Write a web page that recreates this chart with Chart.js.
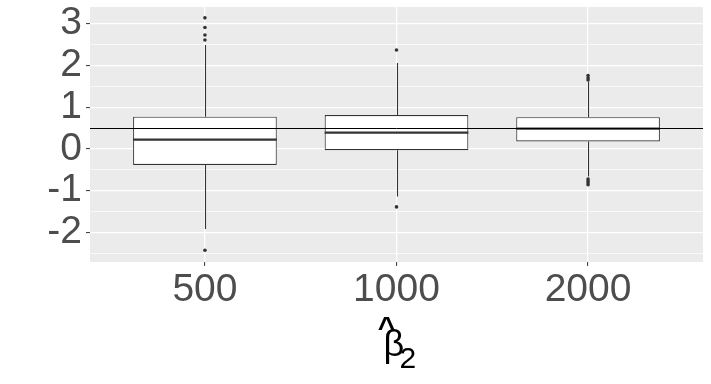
<!DOCTYPE html>
<html>
<head>
<meta charset="utf-8">
<script src="https://cdn.jsdelivr.net/npm/chart.js@4"></script>
<style>
  html, body { margin: 0; padding: 0; background: #ffffff; }
  #wrap { width: 711px; height: 384px; }
</style>
</head>
<body>
<div id="wrap"><canvas id="my-chart" width="711" height="384"></canvas></div>
<script>
'use strict';

// ******** DATA *******

let categories = ['500', '1000', '2000'];
let xPositions = [1, 2, 3];

// box stats for each sample size
let q1 = [-0.383, -0.03, 0.18];
let medians = [0.222, 0.39, 0.486];
let q3 = [0.773, 0.81, 0.76];
let whiskerLow = [-1.92, -1.14, -0.66];
let whiskerHigh = [2.49, 2.06, 1.61];

// outlying points
let outliers500 = [3.14, 2.91, 2.73, 2.61, -2.43];
let outliers1000 = [2.37, -1.39];
let outliers2000 = [1.76, 1.70, 1.65, -0.72, -0.77, -0.81, -0.86];

// true value line
let refValue = 0.5;

// tick labels
let yTickValues = [-2.5, -2, -1.5, -1, -0.5, 0, 0.5, 1, 1.5, 2, 2.5, 3];
let yTickLabels = ['', '-2', '', '-1', '', '0', '', '1', '', '2', '', '3'];

// ******** BUILD DATASETS *******

let boxData = [];
for (let i = 0; i < categories.length; i++) {
  boxData.push({ x: xPositions[i], y: [q1[i], q3[i]] });
}

let allOutliers = [outliers500, outliers1000, outliers2000];
let outlierPoints = [];
for (let i = 0; i < allOutliers.length; i++) {
  for (let j = 0; j < allOutliers[i].length; j++) {
    outlierPoints.push({ x: xPositions[i], y: allOutliers[i][j] });
  }
}

// ******** PLUGINS *******

// grey panel behind everything
let panelBg = {
  id: 'panelBg',
  beforeDraw(chart) {
    let a = chart.chartArea;
    let c = chart.ctx;
    c.save();
    c.fillStyle = '#EBEBEB';
    c.fillRect(a.left, a.top, a.right - a.left, a.bottom - a.top);
    c.restore();
  }
};

// whiskers, medians and the horizontal reference line
let boxExtras = {
  id: 'boxExtras',
  afterDatasetsDraw(chart) {
    let c = chart.ctx;
    let xs = chart.scales.x;
    let ys = chart.scales.y;
    let bars = chart.getDatasetMeta(0).data;
    c.save();
    c.strokeStyle = '#333333';
    for (let i = 0; i < categories.length; i++) {
      let px = Math.round(xs.getPixelForValue(xPositions[i])) + 0.5;
      c.lineWidth = 1.1;
      c.beginPath();
      c.moveTo(px, ys.getPixelForValue(q3[i]));
      c.lineTo(px, ys.getPixelForValue(whiskerHigh[i]));
      c.moveTo(px, ys.getPixelForValue(q1[i]));
      c.lineTo(px, ys.getPixelForValue(whiskerLow[i]));
      c.stroke();

      let half = bars[i].width / 2;
      let my = ys.getPixelForValue(medians[i]);
      c.lineWidth = 2.2;
      c.beginPath();
      c.moveTo(bars[i].x - half, my);
      c.lineTo(bars[i].x + half, my);
      c.stroke();
    }
    let a = chart.chartArea;
    let ry = Math.round(ys.getPixelForValue(refValue)) + 0.5;
    c.strokeStyle = '#000000';
    c.lineWidth = 1;
    c.beginPath();
    c.moveTo(a.left, ry);
    c.lineTo(a.right, ry);
    c.stroke();
    c.restore();
  }
};

// x axis title: beta hat sub 2
let xTitle = {
  id: 'xTitle',
  afterDraw(chart) {
    let c = chart.ctx;
    let a = chart.chartArea;
    let cx = (a.left + a.right) / 2;
    c.save();
    c.fillStyle = '#000000';
    c.textBaseline = 'alphabetic';
    c.textAlign = 'left';
    c.font = '36px "Liberation Sans", Arial, sans-serif';
    c.fillText('\u03B2', cx - 13, 356);
    c.font = '30px "Liberation Sans", Arial, sans-serif';
    c.fillText('2', cx + 3, 368);
    c.textAlign = 'center';
    c.font = 'bold 30px "Liberation Sans", Arial, sans-serif';
    c.fillText('^', cx - 10, 337);
    c.restore();
  }
};

// ******** CHART *******

let ctx = document.getElementById('my-chart');

let chartObject = {
  type: 'bar',
  data: {
    datasets: [{
      type: 'bar',
      data: boxData,
      backgroundColor: '#FFFFFF',
      borderColor: '#333333',
      borderWidth: 1.1,
      borderSkipped: false,
      barPercentage: 0.75,
      categoryPercentage: 1,
      order: 2
    },
    {
      type: 'scatter',
      data: outlierPoints,
      pointRadius: 1.8,
      pointBackgroundColor: '#333333',
      pointBorderWidth: 0,
      order: 1
    }]
  },
  options: {
    responsive: false,
    animation: false,
    events: [],
    layout: { padding: { left: 0, top: 7, right: 8, bottom: 0 } },
    plugins: {
      legend: { display: false },
      tooltip: { enabled: false }
    },
    scales: {
      x: {
        type: 'linear',
        min: 0.4,
        max: 3.6,
        offset: false,
        border: { display: false },
        grid: {
          offset: false,
          color: '#FFFFFF',
          lineWidth: 1.2,
          tickColor: '#333333',
          tickWidth: 1,
          tickLength: 4
        },
        afterBuildTicks(scale) {
          scale.ticks = xPositions.map(v => ({ value: v }));
        },
        afterFit(scale) {
          scale.height = 122;
          scale.paddingLeft = 0;
          scale.paddingRight = 0;
        },
        ticks: {
          autoSkip: false,
          maxRotation: 0,
          padding: 1,
          color: '#4D4D4D',
          font: { family: '"Liberation Sans", Arial, sans-serif', size: 39 },
          callback: function(value) {
            let i = xPositions.indexOf(value);
            return i >= 0 ? categories[i] : '';
          }
        }
      },
      y: {
        type: 'linear',
        min: -2.71,
        max: 3.40,
        border: { display: false },
        grid: {
          color: '#FFFFFF',
          lineWidth: function(c) {
            return Number.isInteger(c.tick.value) ? 1.2 : 0.7;
          },
          tickColor: function(c) {
            return Number.isInteger(c.tick.value) ? '#333333' : 'rgba(0,0,0,0)';
          },
          tickWidth: 1,
          tickLength: 4
        },
        afterBuildTicks(scale) {
          scale.ticks = yTickValues.map(v => ({ value: v }));
        },
        afterFit(scale) {
          scale.width = 90;
          scale.paddingTop = 0;
          scale.paddingBottom = 0;
        },
        ticks: {
          autoSkip: false,
          padding: 4,
          color: '#4D4D4D',
          font: { family: '"Liberation Sans", Arial, sans-serif', size: 39 },
          callback: function(value) {
            let i = yTickValues.indexOf(value);
            return i >= 0 ? yTickLabels[i] : '';
          }
        }
      }
    }
  },
  plugins: [panelBg, boxExtras, xTitle]
};

const myChart = new Chart(ctx, chartObject);
</script>
</body>
</html>
